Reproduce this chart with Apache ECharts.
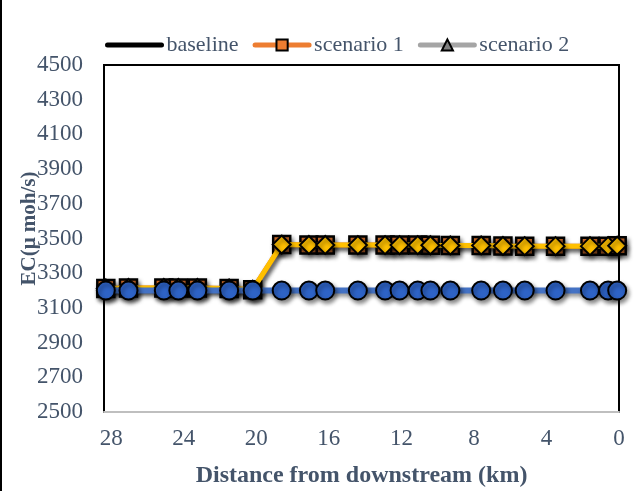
<!DOCTYPE html>
<html>
<head>
<meta charset="utf-8">
<script src="https://cdn.jsdelivr.net/npm/echarts@6/dist/echarts.min.js"></script>
<style>
html,body{margin:0;padding:0;background:#fff;}
#chart{width:637px;height:491px;}
</style>
</head>
<body>
<div id="chart"></div>
<script>
// Distance from downstream (km)
const distanceKm = [28.3, 27.05, 25.1, 24.3, 23.25, 21.5, 20.2, 18.6, 17.1, 16.2, 14.4, 12.9, 12.1, 11.1, 10.4, 9.3, 7.6, 6.4, 5.2, 3.5, 1.6, 0.6, 0.1];
// EC values
const baselineEC = [3200, 3200, 3200, 3200, 3200, 3200, 3200, 3200, 3200, 3200, 3200, 3200, 3200, 3200, 3200, 3200, 3200, 3200, 3200, 3200, 3200, 3200, 3200];
const scenario1EC = [3212, 3215, 3215, 3215, 3215, 3212, 3205, 3465, 3463, 3463, 3462, 3462, 3462, 3462, 3461, 3460, 3460, 3457, 3456, 3456, 3456, 3456, 3458];
const scenario2EC = [3212, 3215, 3215, 3215, 3215, 3212, 3205, 3465, 3463, 3463, 3462, 3462, 3462, 3462, 3461, 3460, 3460, 3457, 3456, 3456, 3456, 3456, 3458];
const seriesNames = ['baseline', 'scenario 1', 'scenario 2'];
const xTicks = [0, 4, 8, 12, 16, 20, 24, 28];
const yTicks = [2500, 2700, 2900, 3100, 3300, 3500, 3700, 3900, 4100, 4300, 4500];

const pair = (xs, ys) => xs.map((x, i) => [x, ys[i]]);
const FONT = '"Liberation Serif", "Times New Roman", serif';
const TXT = '#44546A';
const shadow = {shadowBlur: 4, shadowColor: 'rgba(0,0,0,0.45)', shadowOffsetX: 2, shadowOffsetY: 3};

const chart = echarts.init(document.getElementById('chart'), null, {renderer: 'canvas'});
chart.setOption({
  animation: false,
  backgroundColor: '#fff',
  textStyle: {fontFamily: FONT},
  legend: {
    data: [
      {name: seriesNames[0], itemStyle: {opacity: 0}, lineStyle: {width: 5, cap: 'round'}},
      {name: seriesNames[1], lineStyle: {width: 5, cap: 'round'}},
      {name: seriesNames[2], lineStyle: {width: 5, cap: 'round'}}
    ],
    left: 100, top: 29,
    itemWidth: 54, itemHeight: 14, itemGap: 14,
    textStyle: {fontFamily: FONT, fontSize: 22, color: TXT}
  },
  grid: {left: 104, right: 18, top: 65, bottom: 79, outerBoundsMode: 'none', containLabel: false,
    show: true, borderColor: '#000', borderWidth: 2, backgroundColor: 'transparent'},
  xAxis: {
    type: 'value', inverse: true, min: 0, max: 28.4, interval: 4,
    name: 'Distance from downstream (km)', nameLocation: 'middle', nameGap: 52,
    nameTextStyle: {fontFamily: FONT, fontSize: 24, fontWeight: 'bold', color: TXT},
    axisLine: {show: true, lineStyle: {color: '#BFBFBF', width: 2}},
    axisTick: {show: false}, splitLine: {show: false},
    axisLabel: {
      showMaxLabel: false, margin: 15, fontFamily: FONT, fontSize: 23, color: TXT,
      formatter: v => xTicks.includes(v) ? String(v) : ''
    }
  },
  yAxis: {
    type: 'value', min: 2500, max: 4500, interval: 100,
    name: 'EC(\u03bc moh/s)', nameLocation: 'middle', nameGap: 64, nameRotate: 90, nameMoveOverlap: false,
    nameTextStyle: {fontFamily: FONT, fontSize: 21, fontWeight: 'bold', color: TXT, padding: [0, 0, 0, 20]},
    axisLine: {show: true, lineStyle: {color: '#000', width: 2}},
    axisTick: {show: false}, splitLine: {show: false},
    axisLabel: {
      margin: 21, fontFamily: FONT, fontSize: 23, color: TXT,
      formatter: v => yTicks.includes(v) ? String(v) : ''
    }
  },
  graphic: [
    {type: 'line', shape: {x1: 1, y1: 0, x2: 1, y2: 491}, style: {stroke: '#000', lineWidth: 2}, silent: true}
  ],
  series: [
    // legend-only entries (styles as shown in the legend)
    {name: 'baseline', type: 'line', data: [], symbol: 'none', lineStyle: {color: '#000', width: 5}, itemStyle: {color: '#000'}},
    {name: 'scenario 1', type: 'line', data: [], symbol: 'rect', symbolSize: 13,
      lineStyle: {color: '#ED7D31', width: 5}, itemStyle: {color: '#ED7D31', borderColor: '#000', borderWidth: 2}},
    {name: 'scenario 2', type: 'line', data: [], symbol: 'triangle', symbolSize: 13,
      lineStyle: {color: '#A5A5A5', width: 5}, itemStyle: {color: '#7F7F7F', borderColor: '#000', borderWidth: 2}},
    // plotted series
    {name: 's1', type: 'line', data: pair(distanceKm, scenario1EC), symbol: 'rect', symbolSize: 17,
      lineStyle: Object.assign({color: '#ED7D31', width: 5}, shadow),
      itemStyle: Object.assign({color: '#ED7D31', borderColor: '#000', borderWidth: 2.5}, shadow), z: 3},
    {name: 's2', type: 'line', data: pair(distanceKm, scenario2EC), symbol: 'diamond', symbolSize: 18,
      lineStyle: Object.assign({color: '#FFC000', width: 5}, shadow),
      itemStyle: Object.assign({color: '#FFC000', borderColor: '#000', borderWidth: 2}, shadow), z: 4},
    {name: 'b', type: 'line', data: pair(distanceKm, baselineEC), symbol: 'circle', symbolSize: 18,
      lineStyle: Object.assign({color: '#4472C4', width: 6}, shadow),
      itemStyle: Object.assign({color: '#2E63C6', borderColor: '#000', borderWidth: 2}, shadow), z: 5}
  ]
});
</script>
</body>
</html>
